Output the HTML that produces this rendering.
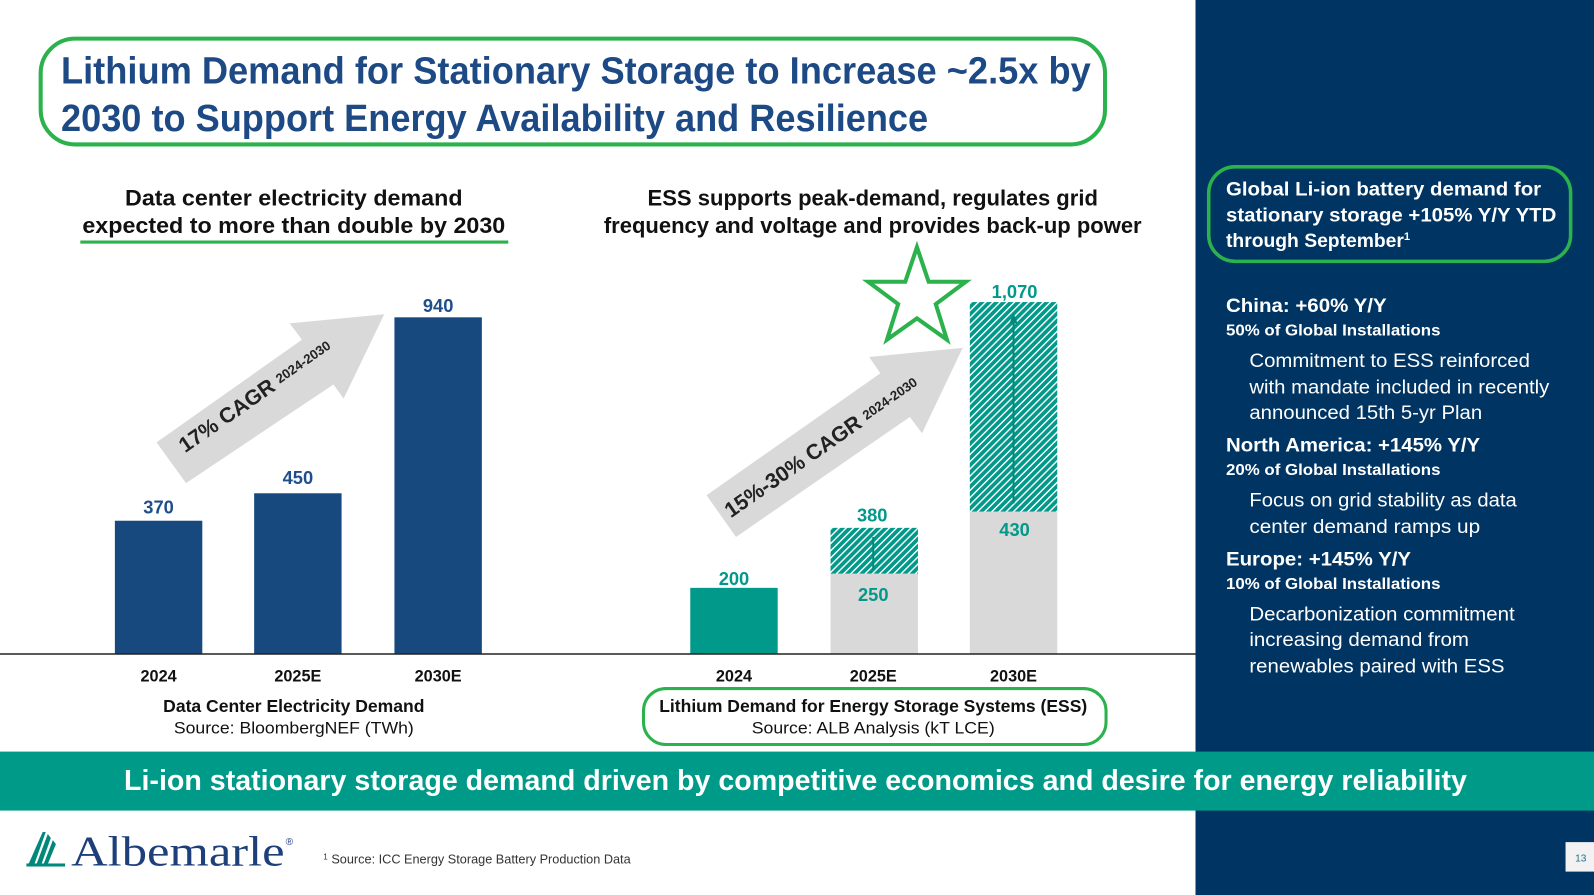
<!DOCTYPE html>
<html><head><meta charset="utf-8"><style>
html,body{margin:0;padding:0;background:#fff;overflow:hidden}
svg{display:block}
text{font-family:"Liberation Sans",Arial,sans-serif}
</style></head><body>
<svg width="1594" height="895" viewBox="0 0 1568 880" preserveAspectRatio="none" xmlns="http://www.w3.org/2000/svg">
<defs>
<pattern id="h" width="5" height="5" patternUnits="userSpaceOnUse" patternTransform="rotate(45)">
<rect width="5" height="5" fill="#00998a"/><rect width="1.4" height="5" fill="#fff"/>
</pattern>
</defs>
<rect width="1568" height="880" fill="#fff"/>
<rect x="1176" y="0" width="392" height="880" fill="#003462"/>
<rect x="0" y="739" width="1568" height="58" fill="#009a88"/>

<rect x="40" y="38" width="1047" height="104" rx="34" fill="none" stroke="#2bb24c" stroke-width="4"/>
<text x="60" y="82" font-size="37" font-weight="bold" fill="#1d4a85" textLength="1013" lengthAdjust="spacingAndGlyphs">Lithium Demand for Stationary Storage to Increase ~2.5x by</text>
<text x="60" y="129" font-size="37" font-weight="bold" fill="#1d4a85" textLength="853" lengthAdjust="spacingAndGlyphs">2030 to Support Energy Availability and Resilience</text>

<text x="123" y="202" font-size="22" font-weight="bold" fill="#111" textLength="332" lengthAdjust="spacingAndGlyphs">Data center electricity demand</text>
<text x="81" y="229" font-size="22" font-weight="bold" fill="#111" textLength="416" lengthAdjust="spacingAndGlyphs">expected to more than double by 2030</text>
<line x1="79" y1="238" x2="500" y2="238" stroke="#2bb24c" stroke-width="3"/>
<text x="637" y="202" font-size="22" font-weight="bold" fill="#111" textLength="443" lengthAdjust="spacingAndGlyphs">ESS supports peak-demand, regulates grid</text>
<text x="594" y="229" font-size="22" font-weight="bold" fill="#111" textLength="529" lengthAdjust="spacingAndGlyphs">frequency and voltage and provides back-up power</text>

<polygon points="378,309 338,392 328,378 183,475 154,435 297,334 285,318" fill="#d9d9d9"/>
<text transform="translate(255,395) rotate(-34.8)" text-anchor="middle" font-size="21" font-weight="bold" fill="#222">17% CAGR <tspan font-size="13" dy="-3">2024-2030</tspan></text>
<polygon points="947,342 907,426 895,410 724,528 695,487 866,367 855,351" fill="#d9d9d9"/>
<text transform="translate(812,445) rotate(-34.8)" text-anchor="middle" font-size="21" font-weight="bold" fill="#222">15%-30% CAGR <tspan font-size="13" dy="-3">2024-2030</tspan></text>

<polygon points="902,243 913.5,277 950,277 920.5,299 931.5,334 902,313 872.5,334 883.5,299 854,277 890.5,277" fill="none" stroke="#2bb24c" stroke-width="4" stroke-linejoin="miter"/>

<rect x="113" y="512" width="86" height="131" fill="#17497e"/>
<rect x="250" y="485" width="86" height="158" fill="#17497e"/>
<rect x="388" y="312" width="86" height="331" fill="#17497e"/>
<g font-size="18" font-weight="bold" fill="#1f4e8c" text-anchor="middle">
<text x="156" y="505">370</text><text x="293" y="476">450</text><text x="431" y="307">940</text>
</g>

<rect x="679" y="578" width="86" height="65" fill="#00998a"/>
<rect x="817" y="564" width="86" height="79" fill="#d9d9d9"/>
<rect x="817" y="519" width="86" height="45" fill="url(#h)"/>
<rect x="954" y="503" width="86" height="140" fill="#d9d9d9"/>
<rect x="954" y="297" width="86" height="206" fill="url(#h)"/>
<line x1="997" y1="495" x2="997" y2="312" stroke="#00897b" stroke-width="2"/>
<polygon points="993,318 1001,318 997,308" fill="#00897b"/>
<line x1="859" y1="560" x2="859" y2="528" stroke="#00897b" stroke-width="2"/>
<g font-size="18" font-weight="bold" fill="#00998a" text-anchor="middle">
<text x="722" y="575">200</text><text x="858" y="513">380</text><text x="859" y="591">250</text>
<text x="998" y="293">1,070</text><text x="998" y="527">430</text>
</g>

<line x1="0" y1="643" x2="1176" y2="643" stroke="#222" stroke-width="1.5"/>
<g font-size="16" font-weight="bold" fill="#111" text-anchor="middle">
<text x="156" y="670">2024</text><text x="293" y="670">2025E</text><text x="431" y="670">2030E</text>
<text x="722" y="670">2024</text><text x="859" y="670">2025E</text><text x="997" y="670">2030E</text>
</g>
<text x="289" y="700" font-size="17" font-weight="bold" fill="#111" text-anchor="middle" textLength="257" lengthAdjust="spacingAndGlyphs">Data Center Electricity Demand</text>
<text x="289" y="721" font-size="16" fill="#111" text-anchor="middle" textLength="236" lengthAdjust="spacingAndGlyphs">Source: BloombergNEF (TWh)</text>
<rect x="633" y="677" width="455" height="55" rx="22" fill="none" stroke="#2bb24c" stroke-width="3"/>
<text x="859" y="700" font-size="17" font-weight="bold" fill="#111" text-anchor="middle" textLength="421" lengthAdjust="spacingAndGlyphs">Lithium Demand for Energy Storage Systems (ESS)</text>
<text x="859" y="721" font-size="16" fill="#111" text-anchor="middle" textLength="239" lengthAdjust="spacingAndGlyphs">Source: ALB Analysis (kT LCE)</text>

<text x="122" y="777" font-size="28" font-weight="bold" fill="#fff" textLength="1321" lengthAdjust="spacingAndGlyphs">Li-ion stationary storage demand driven by competitive economics and desire for energy reliability</text>

<g fill="#00897b">
<polygon points="27,852 33,852 45,818 42,818"/>
<polygon points="35,852 40,852 50,824 47,820"/>
<polygon points="42,852 46,852 55,830 52,826"/>
<rect x="26" y="849" width="38" height="3"/>
</g>
<text x="70" y="851" style="font-family:'Liberation Serif',serif" font-size="42" fill="#1d3f7a" textLength="210" lengthAdjust="spacingAndGlyphs">Albemarle</text>
<text x="281" y="831" font-size="10" fill="#1d3f7a">®</text>
<text x="318" y="849" font-size="12.5" fill="#333"><tspan font-size="8" dy="-4">1</tspan><tspan dy="4"> Source: ICC Energy Storage Battery Production Data</tspan></text>

<rect x="1540" y="828" width="28" height="29" fill="#f2f2f2"/>
<text x="1555" y="847" font-size="10" fill="#1f6f8b" text-anchor="middle">13</text>

<rect x="1189" y="164" width="356" height="93" rx="26" fill="none" stroke="#2bb24c" stroke-width="3.5"/>
<g fill="#fff" font-weight="bold" font-size="19">
<text x="1206" y="192" textLength="310" lengthAdjust="spacingAndGlyphs">Global Li-ion battery demand for</text>
<text x="1206" y="218" textLength="325" lengthAdjust="spacingAndGlyphs">stationary storage +105% Y/Y YTD</text>
<text x="1206" y="243">through September<tspan font-size="11" dy="-7">1</tspan></text>
<text x="1206" y="307" textLength="158" lengthAdjust="spacingAndGlyphs">China: +60% Y/Y</text>
<text x="1206" y="444" textLength="250" lengthAdjust="spacingAndGlyphs">North America: +145% Y/Y</text>
<text x="1206" y="556" textLength="182" lengthAdjust="spacingAndGlyphs">Europe: +145% Y/Y</text>
</g>
<g fill="#fff" font-weight="bold" font-size="15">
<text x="1206" y="330" textLength="211" lengthAdjust="spacingAndGlyphs">50% of Global Installations</text>
<text x="1206" y="467" textLength="211" lengthAdjust="spacingAndGlyphs">20% of Global Installations</text>
<text x="1206" y="579" textLength="211" lengthAdjust="spacingAndGlyphs">10% of Global Installations</text>
</g>
<g fill="#fff" font-size="19">
<text x="1229" y="361" textLength="276" lengthAdjust="spacingAndGlyphs">Commitment to ESS reinforced</text>
<text x="1229" y="387" textLength="295" lengthAdjust="spacingAndGlyphs">with mandate included in recently</text>
<text x="1229" y="412" textLength="229" lengthAdjust="spacingAndGlyphs">announced 15th 5-yr Plan</text>
<text x="1229" y="498" textLength="263" lengthAdjust="spacingAndGlyphs">Focus on grid stability as data</text>
<text x="1229" y="524" textLength="227" lengthAdjust="spacingAndGlyphs">center demand ramps up</text>
<text x="1229" y="610" textLength="261" lengthAdjust="spacingAndGlyphs">Decarbonization commitment</text>
<text x="1229" y="635" textLength="216" lengthAdjust="spacingAndGlyphs">increasing demand from</text>
<text x="1229" y="661" textLength="251" lengthAdjust="spacingAndGlyphs">renewables paired with ESS</text>
</g>
</svg>
</body></html>
